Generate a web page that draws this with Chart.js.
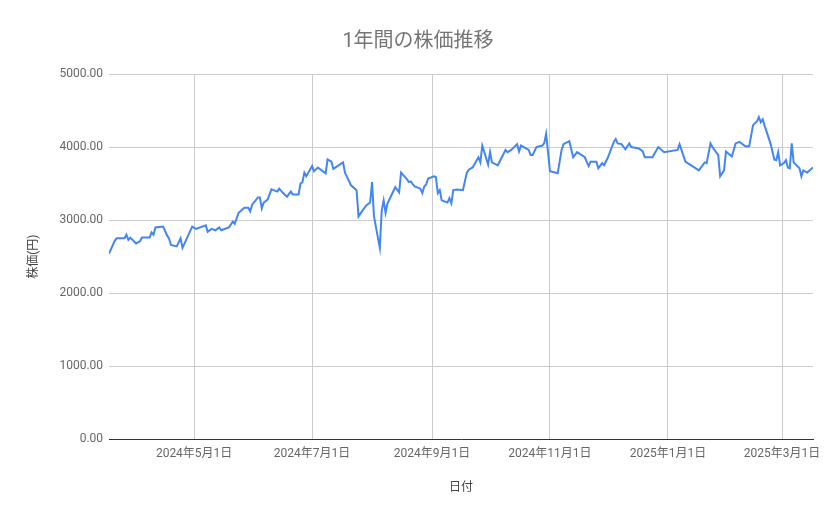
<!DOCTYPE html>
<html>
<head>
<meta charset="utf-8">
<script src="https://cdn.jsdelivr.net/npm/chart.js@4.4.1/dist/chart.umd.min.js"></script>
<style>
  html, body { margin: 0; padding: 0; background: #fff; }
  #wrap { width: 839px; height: 519px; }
</style>
</head>
<body>
<div id="wrap"><canvas id="stockChart"></canvas></div>
<script>
// Daily closes (2024-03-18 .. 2025-03-17)
const dates = [
  '2024-03-18', '2024-03-21', '2024-03-22', '2024-03-26', '2024-03-27', '2024-03-28', '2024-03-29',
  '2024-04-01', '2024-04-03', '2024-04-04', '2024-04-08', '2024-04-09', '2024-04-10', '2024-04-11',
  '2024-04-14', '2024-04-15', '2024-04-17', '2024-04-18', '2024-04-19', '2024-04-22', '2024-04-24',
  '2024-04-25', '2024-04-30',
  '2024-05-02', '2024-05-07', '2024-05-08', '2024-05-10', '2024-05-12', '2024-05-14', '2024-05-15',
  '2024-05-19', '2024-05-21', '2024-05-22', '2024-05-24', '2024-05-27', '2024-05-29', '2024-05-30',
  '2024-05-31',
  '2024-06-03', '2024-06-04', '2024-06-05', '2024-06-06', '2024-06-08', '2024-06-10', '2024-06-13',
  '2024-06-14', '2024-06-16', '2024-06-18', '2024-06-20', '2024-06-21', '2024-06-24', '2024-06-25',
  '2024-06-26', '2024-06-27', '2024-06-28',
  '2024-07-01', '2024-07-02', '2024-07-04', '2024-07-08', '2024-07-09', '2024-07-11', '2024-07-12',
  '2024-07-17', '2024-07-18', '2024-07-20', '2024-07-21', '2024-07-24', '2024-07-25', '2024-07-27',
  '2024-07-29', '2024-07-31',
  '2024-08-01', '2024-08-02', '2024-08-05', '2024-08-06', '2024-08-07', '2024-08-08', '2024-08-09',
  '2024-08-13', '2024-08-15', '2024-08-16', '2024-08-19', '2024-08-20', '2024-08-21', '2024-08-23',
  '2024-08-26', '2024-08-27', '2024-08-28', '2024-08-29', '2024-08-30',
  '2024-09-02', '2024-09-03', '2024-09-04', '2024-09-05', '2024-09-06', '2024-09-09', '2024-09-10',
  '2024-09-11', '2024-09-12', '2024-09-14', '2024-09-17', '2024-09-19', '2024-09-20', '2024-09-22',
  '2024-09-25', '2024-09-26', '2024-09-27', '2024-09-30',
  '2024-10-01', '2024-10-02', '2024-10-05', '2024-10-09', '2024-10-10', '2024-10-12', '2024-10-15',
  '2024-10-16', '2024-10-17', '2024-10-21', '2024-10-22', '2024-10-23', '2024-10-25', '2024-10-28',
  '2024-10-29', '2024-10-30',
  '2024-11-01', '2024-11-05', '2024-11-07', '2024-11-08', '2024-11-11', '2024-11-13', '2024-11-15',
  '2024-11-19', '2024-11-21', '2024-11-22', '2024-11-25', '2024-11-26', '2024-11-28', '2024-11-29',
  '2024-12-01', '2024-12-04', '2024-12-05', '2024-12-06', '2024-12-08', '2024-12-10', '2024-12-12',
  '2024-12-13', '2024-12-17', '2024-12-19', '2024-12-20', '2024-12-24', '2024-12-27', '2024-12-30',
  '2025-01-06', '2025-01-07', '2025-01-10', '2025-01-17', '2025-01-20', '2025-01-21', '2025-01-23',
  '2025-01-24', '2025-01-27', '2025-01-28', '2025-01-30', '2025-01-31',
  '2025-02-03', '2025-02-05', '2025-02-07', '2025-02-10', '2025-02-12', '2025-02-14', '2025-02-16',
  '2025-02-17', '2025-02-18', '2025-02-19', '2025-02-20', '2025-02-23', '2025-02-25', '2025-02-26',
  '2025-02-27', '2025-02-28',
  '2025-03-02', '2025-03-03', '2025-03-04', '2025-03-05', '2025-03-06', '2025-03-07', '2025-03-10',
  '2025-03-11', '2025-03-12', '2025-03-14', '2025-03-17'
];

const prices = [
  2540, 2720, 2750, 2750, 2800, 2730, 2760,
  2680, 2710, 2760, 2760, 2830, 2800, 2900,
  2910, 2910, 2790, 2750, 2660, 2640, 2750,
  2620, 2910,
  2880, 2930, 2840, 2880, 2860, 2900, 2860,
  2900, 2980, 2950, 3100, 3170, 3170, 3120,
  3210,
  3310, 3310, 3160, 3240, 3280, 3420, 3390,
  3430, 3370, 3320, 3390, 3350, 3350, 3500,
  3520, 3650, 3600,
  3740, 3670, 3720, 3640, 3830, 3800, 3700,
  3790, 3650, 3540, 3480, 3410, 3050, 3130,
  3200, 3240,
  3520, 3050, 2620, 3130, 3270, 3100, 3230,
  3450, 3380, 3650, 3560, 3520, 3530, 3460,
  3430, 3370, 3460, 3490, 3570,
  3600, 3590, 3370, 3410, 3270, 3240, 3300,
  3230, 3410, 3420, 3410, 3650, 3690, 3720,
  3860, 3790, 4020, 3760,
  3930, 3790, 3750, 3960, 3930, 3960, 4040,
  3940, 4020, 3960, 3890, 3890, 4000, 4020,
  4050, 4180,
  3670, 3640, 3960, 4040, 4080, 3860, 3930,
  3860, 3740, 3800, 3800, 3710, 3780, 3750,
  3860, 4070, 4110, 4050, 4040, 3970, 4050,
  4000, 3980, 3940, 3860, 3860, 4000, 3930,
  3960, 4040, 3800, 3680, 3790, 3780, 4050,
  4000, 3890, 3600, 3680, 3940, 3870,
  4050, 4070, 4010, 4010, 4300, 4350, 4410,
  4340, 4380, 4290, 4050, 3830, 3820, 3930,
  3750, 3780,
  3820, 3720, 3710, 4050, 3790, 3710, 3600,
  3680, 3650, 3720, 3740
];

const yTicks = [0, 1000, 2000, 3000, 4000, 5000];
const xTickDates = ['2024-05-01', '2024-07-01', '2024-09-01', '2024-11-01', '2025-01-01', '2025-03-01'];
const rangeStart = '2024-03-18';
const rangeEnd = '2025-03-17';

const DAY = 86400000;
function toDay(s) {
  const [y, m, d] = s.split('-').map(Number);
  return Date.UTC(y, m - 1, d) / DAY;
}
function fmtDay(n) {
  const dt = new Date(n * DAY);
  return dt.getUTCFullYear() + '年' + (dt.getUTCMonth() + 1) + '月' + dt.getUTCDate() + '日';
}

const points = dates.map((d, i) => ({ x: toDay(d), y: prices[i] }));
const font = "Roboto, 'Noto Sans CJK JP', sans-serif";

new Chart(document.getElementById('stockChart'), {
  type: 'line',
  data: {
    datasets: [{
      label: '株価',
      data: points,
      borderColor: '#4285f4',
      borderWidth: 2,
      pointRadius: 0,
      tension: 0,
      fill: false
    }]
  },
  options: {
    responsive: true,
    maintainAspectRatio: false,
    animation: false,
    layout: { padding: { left: 23, right: 26, top: 10, bottom: 20 } },
    plugins: {
      legend: { display: false },
      tooltip: { enabled: false },
      title: {
        display: true,
        text: '1年間の株価推移',
        color: '#757575',
        font: { family: font, size: 20, weight: 'normal' },
        padding: { top: 20, bottom: 20 }
      }
    },
    scales: {
      x: {
        type: 'linear',
        min: toDay(rangeStart),
        max: toDay(rangeEnd),
        afterBuildTicks: axis => { axis.ticks = xTickDates.map(d => ({ value: toDay(d) })); },
        ticks: {
          callback: v => fmtDay(v),
          color: '#666',
          font: { family: font, size: 12 },
          maxRotation: 0,
          autoSkip: false,
          padding: 8
        },
        grid: { color: '#cccccc', drawTicks: false },
        border: { display: true, color: '#333333', width: 1 },
        title: {
          display: true,
          text: '日付',
          color: '#444',
          font: { family: font, size: 12 },
          padding: { top: 11 }
        }
      },
      y: {
        min: 0,
        max: 5000,
        afterBuildTicks: axis => { axis.ticks = yTicks.map(v => ({ value: v })); },
        ticks: {
          callback: v => v.toFixed(2),
          color: '#666',
          font: { family: font, size: 12 },
          padding: 6
        },
        grid: { color: '#cccccc', drawTicks: false },
        border: { display: false },
        title: {
          display: true,
          text: '株価(円)',
          color: '#444',
          font: { family: font, size: 12 },
          padding: { bottom: 12 }
        }
      }
    }
  }
});
</script>
</body>
</html>
